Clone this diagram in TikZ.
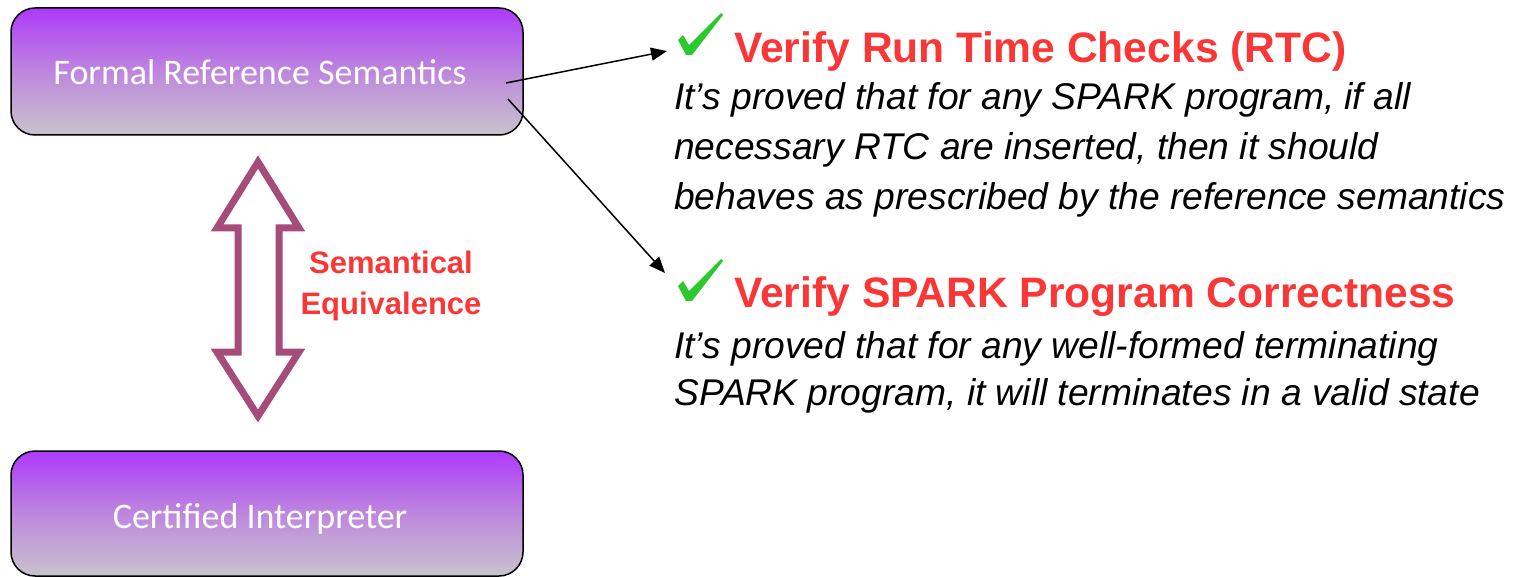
\documentclass[tikz,border=0pt]{standalone}
\usepackage{fontspec}
\setmainfont{Liberation Sans}
\newfontfamily\calibri{Carlito}
\usetikzlibrary{arrows.meta,shadings}
\definecolor{boxtop}{RGB}{173,58,250}
\definecolor{boxmid}{RGB}{190,135,222}
\definecolor{boxbot}{RGB}{200,196,204}
\definecolor{arrowpurple}{RGB}{166,76,122}
\definecolor{headred}{RGB}{250,55,55}
\definecolor{tickgreen}{RGB}{45,200,45}
\tikzset{
  purplebox/.style={draw=black, line width=1.5pt, rounded corners=24pt,
    top color=boxtop, bottom color=boxbot, middle color=boxmid},
  boxlabel/.style={text=white, font=\calibri\fontsize{36}{40}\selectfont, anchor=base},
  heading/.style={text=headred, font=\bfseries\fontsize{42.6}{48}\selectfont, anchor=base west, inner sep=0pt},
  bodytext/.style={text=black, font=\itshape\fontsize{37.2}{40}\selectfont, anchor=base west, inner sep=0pt},
  eqlabel/.style={text=headred, font=\bfseries\fontsize{31}{36}\selectfont, anchor=base, inner sep=0pt},
  connector/.style={draw=black, line width=1.5pt, -{Triangle[length=16pt,width=13pt]}},
  tickmark/.pic={
    \fill[tickgreen] (0,26) -- (5,21) -- (11,31) -- (43,-1) -- (45,1)
      -- (14,41) -- (8,41) -- cycle;
  },
}
\begin{document}
\begin{tikzpicture}[x=1pt,y=-1pt]
\useasboundingbox (0,0) rectangle (1523,577);
% boxes
\path[purplebox] (11,8) rectangle (523,135);
\path[purplebox] (11,451) rectangle (523,576);
\node[boxlabel] (frs) at (260,85) {Formal Reference Semantics};
\node[boxlabel] (ci) at (260,528) {Certified Interpreter};
% double arrow
\draw[arrowpurple, line width=7pt, fill=white, line join=miter]
  (258,162) -- (299,228) -- (279,228) -- (279,352) -- (299,352) -- (258,416)
  -- (217,352) -- (238,352) -- (238,228) -- (217,228) -- cycle;
\node[eqlabel] (eq1) at (391,274) {Semantical};
\node[eqlabel] (eq2) at (391,314) {Equivalence};
% right side
\pic at (678,14) {tickmark};
\node[heading] (h1) at (734,63) {Verify Run Time Checks (RTC)};
\node[bodytext] (b11) at (674,110) {It’s proved that for any SPARK program, if all};
\node[bodytext] (b12) at (674,160) {necessary RTC are inserted, then it should};
\node[bodytext] (b13) at (674,210) {behaves as prescribed by the reference semantics};
\pic at (678,260) {tickmark};
\node[heading] (h2) at (734,308) {Verify SPARK Program Correctness};
\node[bodytext] (b21) at (674,358) {It’s proved that for any well-formed terminating};
\node[bodytext] (b22) at (674,405) {SPARK program, it will terminates in a valid state};
% connectors
\coordinate (s1) at (506,83);
\coordinate (s2) at (508,99);
\coordinate (e1) at (667,51);
\coordinate (e2) at (665,273);
\draw[connector] (s1) -- (e1);
\draw[connector] (s2) -- (e2);
\end{tikzpicture}
\end{document}
